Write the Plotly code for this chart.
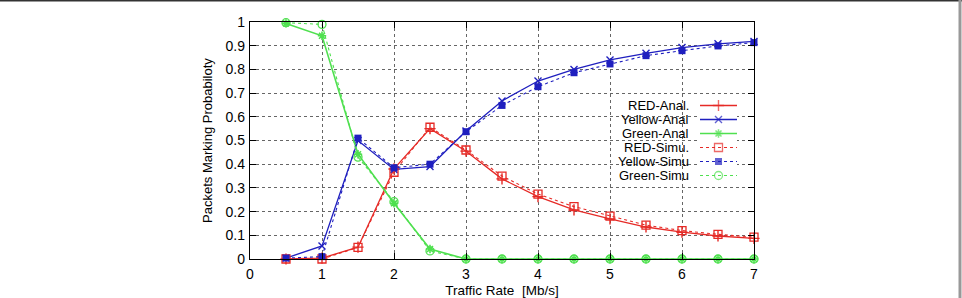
import plotly.graph_objects as go

# ---- data ----
traffic_rate = [0.5, 1, 1.5, 2, 2.5, 3, 3.5, 4, 4.5, 5, 5.5, 6, 6.5, 7]
red_anal = [0.0, 0.004, 0.05, 0.38, 0.55, 0.455, 0.338, 0.263, 0.207, 0.169, 0.135, 0.113, 0.097, 0.087]
yellow_anal = [0.004, 0.055, 0.50, 0.378, 0.39, 0.54, 0.667, 0.751, 0.80, 0.84, 0.868, 0.892, 0.908, 0.918]
green_anal = [0.994, 0.942, 0.442, 0.235, 0.042, 0, 0, 0, 0, 0, 0, 0, 0, 0]
red_simu = [0.0, 0.0, 0.049, 0.366, 0.556, 0.46, 0.35, 0.274, 0.221, 0.181, 0.143, 0.12, 0.104, 0.092]
yellow_simu = [0.004, 0.01, 0.51, 0.385, 0.40, 0.537, 0.648, 0.727, 0.786, 0.823, 0.858, 0.879, 0.899, 0.913]
green_simu = [0.997, 0.99, 0.43, 0.242, 0.034, 0, 0, 0, 0, 0, 0, 0, 0, 0]

x_ticks = [0, 1, 2, 3, 4, 5, 6, 7]
y_ticks = [0, 0.1, 0.2, 0.3, 0.4, 0.5, 0.6, 0.7, 0.8, 0.9, 1]
y_tick_labels = ["0", "0.1", "0.2", "0.3", "0.4", "0.5", "0.6", "0.7", "0.8", "0.9", "1"]
series_names = ["RED-Anal.", "Yellow-Anal", "Green-Anal", "RED-Simu.", "Yellow-Simu", "Green-Simu"]

RED = "#e62a26"
BLUE = "#1f1fbf"
GREEN = "#4fe04f"
FONT = "Liberation Sans, Arial, sans-serif"

styles = [
    dict(color=RED, dash="solid", width=1.3, symbol="cross-thin", size=8, lw=1.4),
    dict(color=BLUE, dash="solid", width=1.3, symbol="x-thin", size=7, lw=1.4),
    dict(color=GREEN, dash="solid", width=1.6, symbol="asterisk", size=7, lw=1.6),
    dict(color=RED, dash="dot", width=1.1, symbol="square-open", size=8, lw=1.3),
    dict(color=BLUE, dash="dot", width=1.1, symbol="square", size=7, lw=0),
    dict(color=GREEN, dash="dot", width=1.1, symbol="circle-open", size=8, lw=1.3),
]
series = [red_anal, yellow_anal, green_anal, red_simu, yellow_simu, green_simu]

fig = go.Figure()
for name, ys, st in zip(series_names, series, styles):
    fig.add_trace(go.Scatter(
        x=traffic_rate, y=ys, mode="lines+markers", name=name, showlegend=False,
        line=dict(color=st["color"], dash=st["dash"], width=st["width"]),
        marker=dict(symbol=st["symbol"], size=st["size"], color=st["color"],
                    line=dict(color=st["color"], width=st["lw"])),
        cliponaxis=False,
    ))

# ---- custom legend (text right-aligned, sample on the right) ----
L_px, R_px, T_px, B_px = 250, 754, 22, 259
W, H = 962, 298
pw, ph = R_px - L_px, B_px - T_px
def px2x(px):
    return (px - L_px) / pw
def py2y(py):
    return (B_px - py) / ph

row_h = 14.0
top_row = 98.5
n = len(series_names)
for i, (name, st) in enumerate(zip(series_names, styles)):
    yv = n - 0.5 - i
    fig.add_trace(go.Scatter(
        x=[0, 0.5, 1], y=[yv, yv, yv], mode="lines+markers", showlegend=False,
        xaxis="x2", yaxis="y2", hoverinfo="skip",
        line=dict(color=st["color"], dash=st["dash"], width=st["width"]),
        marker=dict(symbol=st["symbol"], size=[0, st["size"], 0], color=st["color"],
                    line=dict(color=st["color"], width=st["lw"])),
    ))
    fig.add_annotation(x=px2x(691), y=yv, xref="paper", yref="y2", text=name,
                       showarrow=False, xanchor="right", yanchor="middle",
                       font=dict(family=FONT, size=13, color="black"))

axis_common = dict(
    showline=True, linecolor="black", linewidth=1.3, mirror="ticks",
    ticks="inside", ticklen=6, tickcolor="black", automargin=False,
    showgrid=True, gridcolor="#666", griddash="dot", gridwidth=1,
    zeroline=False, tickfont=dict(family=FONT, size=14, color="black"),
)

fig.update_layout(
    width=W, height=H,
    margin=dict(l=L_px, r=W - R_px, t=T_px, b=H - B_px),
    paper_bgcolor="white", plot_bgcolor="white",
    xaxis=dict(range=[0, 7], tickvals=x_ticks, **axis_common, ticklabelstandoff=2,
               title=dict(text="Traffic Rate  [Mb/s]", standoff=6,
                          font=dict(family=FONT, size=13.5, color="black"))),
    yaxis=dict(range=[0, 1], tickvals=y_ticks, ticktext=y_tick_labels, **axis_common,
               ticklabelstandoff=1,
               title=dict(text="Packets Marking Probabiloty", standoff=10,
                          font=dict(family=FONT, size=13, color="black"))),
    xaxis2=dict(domain=[px2x(700), px2x(737)], range=[0, 1], visible=False,
                anchor="y2", automargin=False),
    yaxis2=dict(domain=[py2y(top_row + n * row_h), py2y(top_row)], range=[0, n],
                visible=False, anchor="x2", automargin=False),
    showlegend=False,
)

# outer frame fragments of the original image
fig.add_shape(type="line", xref="paper", yref="paper",
              x0=px2x(0), x1=px2x(W), y0=py2y(0.5), y1=py2y(0.5),
              line=dict(color="#333", width=2))
fig.add_shape(type="line", xref="paper", yref="paper",
              x0=px2x(960), x1=px2x(960), y0=py2y(0), y1=py2y(H),
              line=dict(color="#999", width=3))

fig.write_html("out.html")
